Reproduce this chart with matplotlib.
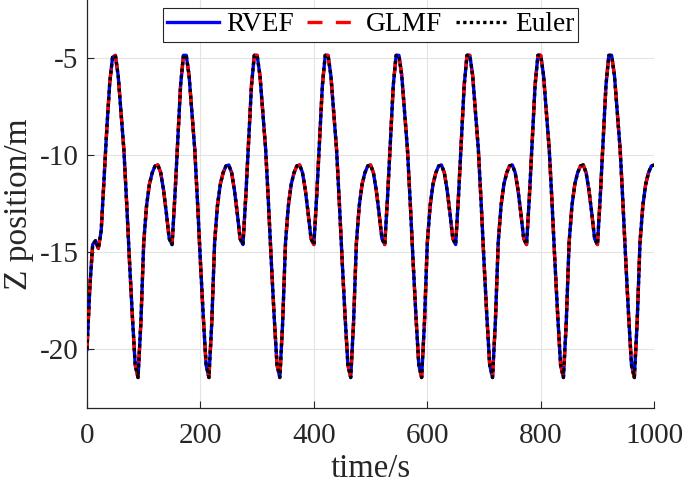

# plot
# Z position of the three filters

import numpy as n
from matplotlib.pyplot import figure, rcParams

# data (5 s step)
time = n.arange(0, 1001, 5)

z_rvef = [
	-20.0, -16.8, -14.6, -14.4, -14.8, -13.9, -11.2, -8.6, -6.3, -4.95,
	-4.85, -5.9, -7.8, -9.7, -12.5, -15.5, -18.3, -20.8, -21.45, -18.6, -14.5, -12.6, -11.5, -10.9, -10.55, -10.5, -10.9, -11.8, -13.0, -14.3, -14.6, -12.1, -9.2, -6.4, -4.85,
	-4.85, -5.9, -7.8, -9.7, -12.5, -15.5, -18.3, -20.8, -21.45, -18.6, -14.5, -12.6, -11.5, -10.9, -10.55, -10.5, -10.9, -11.8, -13.0, -14.3, -14.6, -12.1, -9.2, -6.4, -4.85,
	-4.85, -5.9, -7.8, -9.7, -12.5, -15.5, -18.3, -20.8, -21.45, -18.6, -14.5, -12.6, -11.5, -10.9, -10.55, -10.5, -10.9, -11.8, -13.0, -14.3, -14.6, -12.1, -9.2, -6.4, -4.85,
	-4.85, -5.9, -7.8, -9.7, -12.5, -15.5, -18.3, -20.8, -21.45, -18.6, -14.5, -12.6, -11.5, -10.9, -10.55, -10.5, -10.9, -11.8, -13.0, -14.3, -14.6, -12.1, -9.2, -6.4, -4.85,
	-4.85, -5.9, -7.8, -9.7, -12.5, -15.5, -18.3, -20.8, -21.45, -18.6, -14.5, -12.6, -11.5, -10.9, -10.55, -10.5, -10.9, -11.8, -13.0, -14.3, -14.6, -12.1, -9.2, -6.4, -4.85,
	-4.85, -5.9, -7.8, -9.7, -12.5, -15.5, -18.3, -20.8, -21.45, -18.6, -14.5, -12.6, -11.5, -10.9, -10.55, -10.5, -10.9, -11.8, -13.0, -14.3, -14.6, -12.1, -9.2, -6.4, -4.85,
	-4.85, -5.9, -7.8, -9.7, -12.5, -15.5, -18.3, -20.8, -21.45, -18.6, -14.5, -12.6, -11.5, -10.9, -10.55, -10.5, -10.9, -11.8, -13.0, -14.3, -14.6, -12.1, -9.2, -6.4, -4.85,
	-4.85, -5.9, -7.8, -9.7, -12.5, -15.5, -18.3, -20.8, -21.45, -18.6, -14.5, -12.6, -11.5, -10.9, -10.55, -10.5,
]
z_glmf  = list(z_rvef)   ## identical to RVEF at this scale
z_euler = list(z_rvef)

xticks = [0, 200, 400, 600, 800, 1000]
yticks = [-20, -15, -10, -5]

## parameter
rcParams['font.family'] = ['Liberation Serif', 'DejaVu Serif']
rcParams['axes.unicode_minus'] = False
fs = 21.
lw = 2.4

## plot
fig = figure(figsize=(6.85, 4.87), dpi=100.)
ax = fig.add_axes([0.127, 0.163, 0.828, 0.837])

ax.plot(time, z_rvef, color='#0000ff', lw=lw, ls='-', label='RVEF', zorder=3)
ax.plot(time, z_glmf, color='#ff0000', lw=lw, ls=(0, (4.5, 4.)), label='GLMF', zorder=4)
ax.plot(time, z_euler, color='#000000', lw=lw, ls=(0, (1., 1.)), label='Euler', zorder=5)

ax.set(xlim=(0, 1000), ylim=(-23, -2))
ax.set_xticks(xticks)
ax.set_yticks(yticks)
ax.set_xticklabels([f'{v:d}' for v in xticks])
ax.set_yticklabels([f'{v:d}' for v in yticks])
ax.tick_params(which='major', direction='in', length=5, width=0.8, color='#262626', labelsize=fs, labelcolor='#262626')
ax.tick_params(axis='x', pad=11)
ax.tick_params(axis='y', pad=6)
[ax.spines[axis].set_visible(False) for axis in ['right', 'top']]
[ax.spines[axis].set_color('#262626') for axis in ['left', 'bottom']]
[ax.spines[axis].set_linewidth(0.9) for axis in ['left', 'bottom']]
ax.grid(True, color='#e3e3e3', lw=0.8, zorder=0)
ax.set_axisbelow(True)

ax.set_xlabel('time/s', fontsize=fs+2.5, color='#262626', labelpad=3)
ax.set_ylabel('Z position/m', fontsize=fs+3, color='#262626', labelpad=4)

leg = ax.legend(loc='upper center', ncol=3, fontsize=fs-1.3, frameon=True, fancybox=False,
				edgecolor='#262626', framealpha=1., borderaxespad=0.3, borderpad=0.15,
				handlelength=1.9, handletextpad=0.25, columnspacing=0.5)
leg.get_frame().set_linewidth(0.8)

fig.savefig('out.png')
